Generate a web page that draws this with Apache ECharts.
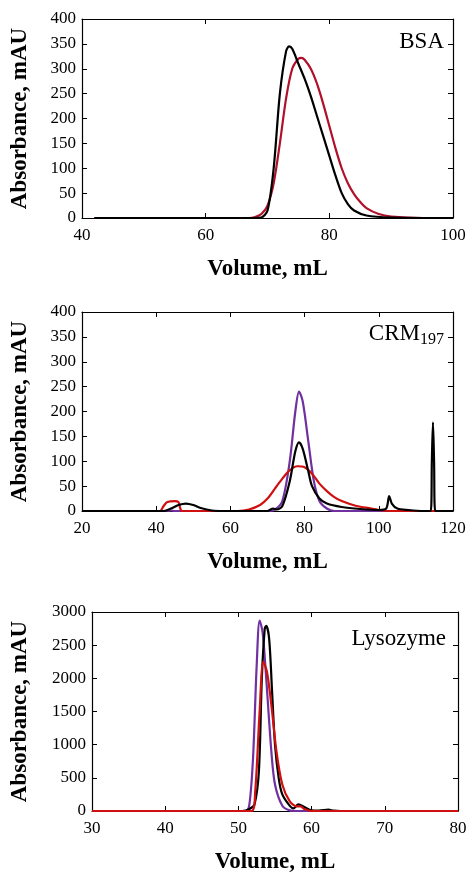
<!DOCTYPE html>
<html><head><meta charset="utf-8">
<script src="https://cdn.jsdelivr.net/npm/echarts@6/dist/echarts.min.js"></script>
<style>html,body{margin:0;padding:0;background:#fff}#c{width:474px;height:886px}</style>
</head><body><div id="c"></div>
<script>
const bsaBlack=[[42,0],[47,0],[68,0],[69,1],[70,15],[71,100],[72,250],[73,335],[73.5,345],[74,340],[75,310],[76,280],[77,245],[78,205],[79,165],[80,125],[81,85],[82,50],[83,28],[84,15],[86,5],[90,1],[100,0]];
const bsaRed=[[42,0],[67,0],[68,2],[69,8],[70,25],[71,70],[72,150],[73,240],[74,300],[75,320],[75.5,322],[76,318],[77,300],[78,270],[79,230],[80,185],[81,140],[82,100],[83,70],[84,48],[85,32],[86,20],[88,8],[90,3],[95,0],[100,0]];
const crmBlack=[[20,0],[42,0],[44,5],[46,12],[48,15],[50,12],[52,6],[55,1],[58,0],[70,0],[71.5,5],[72.5,3],[74,10],[76,60],[77.5,120],[78.5,138],[79.5,125],[81,80],[82,50],[84,25],[86,15],[90,8],[95,4],[100,2],[102,5],[102.8,30],[103.5,15],[105,5],[108,2],[112,0],[114,0],[114.3,100],[114.6,178],[114.9,100],[115.2,0],[120,0]];
const crmPurple=[[20,0],[43,0],[44,1],[45,0],[70,0],[72,3],[74,20],[76,100],[77.5,200],[78.5,240],[79.5,220],[81,140],[82.5,60],[84,20],[86,5],[88,0],[120,0]];
const crmRed=[[20,0],[41,0],[42,10],[43,18],[45,20],[46,18],[46.5,5],[47,0],[62,0],[65,3],[68,12],[70,25],[72,45],[74,65],[76,82],[78,90],[80,88],[82,75],[84,55],[86,40],[88,28],[90,20],[94,10],[98,5],[100,2],[103,0],[120,0]];
const lysBlack=[[30,0],[50.5,0],[51.5,30],[52.2,100],[52.8,600],[53.2,2000],[53.6,2750],[53.8,2790],[54.2,2600],[54.6,1800],[55,1000],[55.5,500],[56,250],[57,80],[57.5,40],[58.2,100],[59,60],[60,10],[61,5],[62.3,20],[63,5],[64,0],[80,0]];
const lysPurple=[[30,0],[51,0],[51.5,100],[52,800],[52.5,2200],[52.9,2870],[53.3,2700],[53.8,2000],[54.5,900],[55,400],[56,80],[57,10],[58,0],[80,0]];
const lysRed=[[30,0],[51.8,0],[52.3,300],[52.9,1500],[53.4,2250],[53.9,2100],[54.5,1600],[55.2,900],[56,400],[57,150],[58,70],[58.5,70],[59,30],[60,0],[80,0]];
const panelNames=['BSA','CRM197','Lysozyme'];

const F='Liberation Serif';
const grids=[{left:82,right:21,top:19,height:199},{left:82,right:21,top:312,height:199},{left:92,right:16,top:612,height:199}];
const xr=[[40,100,20],[20,120,20],[30,80,10]];
const yr=[[0,400,50],[0,400,50],[0,3000,500]];
const xAxis=[],yAxis=[];
grids.forEach((g,i)=>{
  xAxis.push({type:'value',gridIndex:i,min:xr[i][0],max:xr[i][1],interval:xr[i][2],name:'Volume, mL',nameLocation:'middle',nameGap:40,
    nameTextStyle:{fontFamily:F,fontWeight:'bold',fontSize:23,color:'#000'},
    axisLine:{onZero:false,lineStyle:{color:'#000',width:1.2}},axisTick:{inside:true,length:5,lineStyle:{color:'#000'}},
    axisLabel:{fontFamily:F,fontSize:17,color:'#000',margin:9,formatter:v=>String(v)},splitLine:{show:false}});
  xAxis.push({type:'value',gridIndex:i,position:'top',min:xr[i][0],max:xr[i][1],interval:xr[i][2],
    axisLine:{onZero:false,lineStyle:{color:'#000',width:1.2}},axisTick:{inside:true,length:5,lineStyle:{color:'#000'}},axisLabel:{show:false},splitLine:{show:false}});
  yAxis.push({type:'value',gridIndex:i,min:yr[i][0],max:yr[i][1],interval:yr[i][2],name:'Absorbance, mAU',nameLocation:'middle',nameGap:i==2?60:50,
    nameTextStyle:{fontFamily:F,fontWeight:'bold',fontSize:23,color:'#000'},
    axisLine:{show:true,lineStyle:{color:'#000',width:1.2}},axisTick:{inside:true,length:5,lineStyle:{color:'#000'}},
    axisLabel:{fontFamily:F,fontSize:17,color:'#000',margin:6,formatter:v=>String(v)},splitLine:{show:false}});
  yAxis.push({type:'value',gridIndex:i,position:'right',min:yr[i][0],max:yr[i][1],interval:yr[i][2],
    axisLine:{show:true,lineStyle:{color:'#000',width:1.2}},axisTick:{inside:true,length:5,lineStyle:{color:'#000'}},axisLabel:{show:false},splitLine:{show:false}});
});
const PUR='#7030a0',BLK='#000';
function s(data,color,i){return {type:'line',data:data,xAxisIndex:2*i,yAxisIndex:2*i,smooth:0.3,showSymbol:false,lineStyle:{color:color,width:2.2},animation:false};}
const series=[
  s(bsaRed,'#b0102a',0),s(bsaBlack,BLK,0),
  s(crmPurple,PUR,1),s(crmRed,'#d01010',1),s(crmBlack,BLK,1),
  s(lysPurple,PUR,2),s(lysBlack,BLK,2),s(lysRed,'#d01010',2)
];
const chart=echarts.init(document.getElementById('c'));
chart.setOption({animation:false,grid:grids,xAxis:xAxis,yAxis:yAxis,series:series,
  graphic:[
    {type:'text',right:30,top:30,style:{text:panelNames[0],font:'23px "Liberation Serif"',fill:'#000'}},
    {type:'text',right:30,top:322,style:{rich:{a:{fontFamily:F,fontSize:23,color:'#000'},b:{fontFamily:F,fontSize:16,color:'#000',padding:[12,0,0,0]}},text:'{a|CRM}{b|197}'}},
    {type:'text',right:28,top:627,style:{text:panelNames[2],font:'23px "Liberation Serif"',fill:'#000'}}
  ]});
</script></body></html>
